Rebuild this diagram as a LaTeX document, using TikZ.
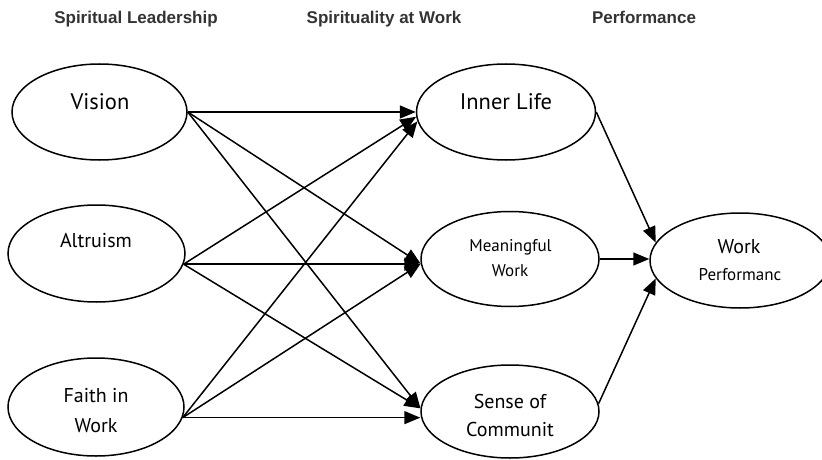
\documentclass[tikz,border=0pt]{standalone}
\usepackage{fontspec}
\setmainfont{PT Sans}
\newfontfamily\hdrfont{Liberation Sans}
\usetikzlibrary{arrows.meta,shapes.geometric}
\tikzset{
  ell/.style={draw, ellipse, line width=1.5pt, inner sep=0pt},
  lbl/.style={anchor=base, inner sep=0pt, text=black},
  big/.style={lbl, font=\fontsize{22.5}{26}\selectfont},
  mid/.style={lbl, font=\fontsize{20}{24}\selectfont},
  sml/.style={lbl, font=\fontsize{17}{20}\selectfont},
  hdr/.style={anchor=base, inner sep=0pt, text=black!80, font=\hdrfont\bfseries\fontsize{17}{20}\selectfont},
  arr/.style={line width=1.5pt, -{Triangle[length=16pt,width=13pt]}},
}
\begin{document}
\begin{tikzpicture}[x=1pt,y=-1pt]
\useasboundingbox (0,0) rectangle (822,460);
% headers
\node[hdr] (h1) at (136,24) {Spiritual Leadership};
\node[hdr] (h2) at (384,24) {Spirituality at Work};
\node[hdr] (h3) at (644,24) {Performance};
% ellipses
\node[ell, minimum width=175pt, minimum height=96pt] (vis) at (99.5,112) {};
\node[ell, minimum width=177pt, minimum height=97pt] (alt) at (96.5,253.5) {};
\node[ell, minimum width=176pt, minimum height=98pt] (fw) at (96,407) {};
\node[ell, minimum width=179pt, minimum height=96pt] (inl) at (506,112) {};
\node[ell, minimum width=178pt, minimum height=95pt] (mw) at (510,259) {};
\node[ell, minimum width=178pt, minimum height=93pt] (sc) at (510,411.5) {};
\node[ell, minimum width=180pt, minimum height=95pt] (wp) at (740,260.5) {};
% texts
\node[big] (tvis) at (100,109) {Vision};
\node[mid] (talt) at (96,247) {Altruism};
\node[mid] (tfw1) at (96,402) {Faith in};
\node[mid] (tfw2) at (96,432) {Work};
\node[big] (tinl) at (506,110) {Inner Life};
\node[sml] (tmw1) at (510.5,251) {Meaningful};
\node[sml] (tmw2) at (510,276) {Work};
\node[mid] (tsc1) at (510,408) {Sense of};
\node[mid] (tsc2) at (510,436) {Communit};
\node[mid] (twp1) at (739,253) {Work};
\node[sml] (twp2) at (740,280) {Performanc};
% connectors: left to middle
\draw[arr] (vis.east) -- (inl.west);
\draw[arr] (vis.east) -- (mw.183);
\draw[arr] (vis.east) -- (sc.178);
\draw[arr] (alt.-7) -- (inl.183);
\draw[arr] (alt.-7) -- (alt.-7 -| mw.west);
\draw[arr] (alt.-7) -- (sc.178);
\draw[arr] (fw.-7) -- (inl.186);
\draw[arr] (fw.-7) -- (mw.183);
\draw[arr] (fw.-7) -- (fw.-7 -| sc.west);
% middle to performance
\draw[arr] (inl.east) -- (wp.168);
\draw[arr] (mw.east) -- (mw.east -| wp.west);
\draw[arr] (sc.5) -- (wp.192);
\end{tikzpicture}
\end{document}
